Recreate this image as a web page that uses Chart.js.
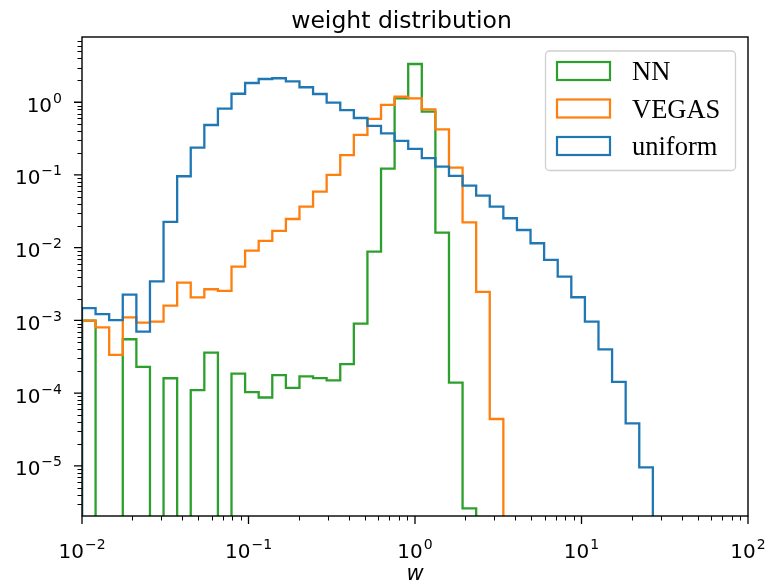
<!DOCTYPE html>
<html>
<head>
<meta charset="utf-8">
<title>weight distribution</title>
<script src="https://cdn.jsdelivr.net/npm/chart.js@4.4.0/dist/chart.umd.min.js"></script>
<style>
    html, body { margin: 0; padding: 0; background: #fff; }
    #contenedor { width: 768px; height: 582px; position: relative; }
</style>
</head>
<body>
<div id="contenedor"><canvas id="grafico"></canvas></div>
<script>
// bordes de los bins: 50 bordes logaritmicos entre 1e-2 y 1e2 (igual que np.logspace(-2, 2, 50))
const bordes = Array.from({ length: 50 }, (_, k) => Math.pow(10, -2 + 4 * k / 49));

// densidad por bin (49 bins); 0 = bin vacio
const pesosNN = [
    9.9e-4, 0, 0, 5.5e-4, 2.3e-4, 0, 1.6e-4, 0, 1.1e-4, 3.6e-4,
    0, 1.85e-4, 1.03e-4, 8.7e-5, 1.77e-4, 1.18e-4, 1.7e-4, 1.61e-4, 1.5e-4, 2.5e-4,
    9.0e-4, 8.8e-3, 0.122, 1.13, 3.36, 0.743, 0.0161, 1.39e-4, 2.6e-6, 0,
    0, 0, 0, 0, 0, 0, 0, 0, 0, 0,
    0, 0, 0, 0, 0, 0, 0, 0, 0
];
const pesosVegas = [
    9.9e-4, 8.0e-4, 3.35e-4, 1.1e-3, 9.3e-4, 9.6e-4, 1.6e-3, 3.3e-3, 2.07e-3, 2.68e-3,
    2.54e-3, 5.5e-3, 9.1e-3, 0.0124, 0.017, 0.0248, 0.0367, 0.059, 0.1, 0.188,
    0.355, 0.59, 0.92, 1.19, 1.13, 0.8, 0.425, 0.126, 0.0223, 2.46e-3,
    4.4e-5, 0, 0, 0, 0, 0, 0, 0, 0, 0,
    0, 0, 0, 0, 0, 0, 0, 0, 0
];
const pesosUniforme = [
    1.47e-3, 1.22e-3, 1.01e-3, 2.26e-3, 7.0e-4, 3.45e-3, 0.0226, 0.096, 0.238, 0.487,
    0.817, 1.31, 1.84, 2.09, 2.14, 1.94, 1.61, 1.3, 0.99, 0.78,
    0.608, 0.472, 0.374, 0.294, 0.228, 0.171, 0.13, 0.097, 0.0713, 0.0519,
    0.0367, 0.0254, 0.0175, 0.0115, 0.0068, 0.004, 2.08e-3, 9.6e-4, 4.0e-4, 1.43e-4,
    3.84e-5, 9.5e-6, 0, 0, 0, 0, 0, 0, 0
];

const nombres = ['NN', 'VEGAS', 'uniform'];
const colores = ['#2ca02c', '#ff7f0e', '#1f77b4'];

const exponentesX = [-2, -1, 0, 1, 2];
const exponentesY = [-5, -4, -3, -2, -1, 0];
const limitesX = [1e-2, 1e2];
const limitesY = [2.04e-6, 7.9];

// contorno tipo histtype='step'; los bins vacios caen por debajo del eje
function contorno(valores) {
    const piso = limitesY[0] / 100;
    const puntos = [{ x: bordes[0], y: piso }];
    valores.forEach((v, k) => puntos.push({ x: bordes[k], y: v > 0 ? v : piso }));
    puntos.push({ x: bordes[bordes.length - 1], y: piso });
    return puntos;
}

// "10" con exponente como superindice
function potencia(ctx, exp, x, y, alinear) {
    const base = '10';
    const sup = exp < 0 ? '\u2212' + Math.abs(exp) : String(exp);
    ctx.font = '20px "DejaVu Sans"';
    const wBase = ctx.measureText(base).width;
    ctx.font = '14px "DejaVu Sans"';
    const wSup = ctx.measureText(sup).width;
    const total = wBase + 1 + wSup;
    let x0 = x;
    if (alinear === 'right') x0 = x - total;
    if (alinear === 'center') x0 = x - total / 2;
    ctx.textAlign = 'left';
    ctx.textBaseline = 'alphabetic';
    ctx.font = '20px "DejaVu Sans"';
    ctx.fillText(base, x0, y);
    ctx.font = '14px "DejaVu Sans"';
    ctx.fillText(sup, x0 + wBase + 1, y - 9);
}

const ejes = {
    id: 'ejes',
    afterDatasetsDraw(chart) {
        const { ctx, chartArea: a, scales } = chart;
        const ex = scales.x, ey = scales.y;
        ctx.save();
        ctx.strokeStyle = '#000';
        ctx.fillStyle = '#000';

        // ticks menores
        ctx.lineWidth = 1;
        ctx.beginPath();
        for (let e = -3; e <= 2; e++) {
            for (let m = 2; m <= 9; m++) {
                const v = m * Math.pow(10, e);
                if (v > limitesX[0] && v < limitesX[1]) {
                    const px = Math.round(ex.getPixelForValue(v)) + 0.5;
                    ctx.moveTo(px, a.bottom);
                    ctx.lineTo(px, a.bottom + 4.5);
                }
            }
        }
        for (let e = -7; e <= 1; e++) {
            for (let m = 2; m <= 9; m++) {
                const v = m * Math.pow(10, e);
                if (v > limitesY[0] && v < limitesY[1]) {
                    const py = Math.round(ey.getPixelForValue(v)) + 0.5;
                    ctx.moveTo(a.left, py);
                    ctx.lineTo(a.left - 4.5, py);
                }
            }
        }
        ctx.stroke();

        // ticks mayores y etiquetas
        ctx.lineWidth = 1.3;
        ctx.beginPath();
        exponentesX.forEach(e => {
            const px = ex.getPixelForValue(Math.pow(10, e));
            ctx.moveTo(px, a.bottom);
            ctx.lineTo(px, a.bottom + 8);
        });
        exponentesY.forEach(e => {
            const py = ey.getPixelForValue(Math.pow(10, e));
            ctx.moveTo(a.left, py);
            ctx.lineTo(a.left - 8, py);
        });
        ctx.stroke();
        exponentesX.forEach(e => potencia(ctx, e, ex.getPixelForValue(Math.pow(10, e)), 558, 'center'));
        exponentesY.forEach(e => potencia(ctx, e, 62, ey.getPixelForValue(Math.pow(10, e)) + 9.5, 'right'));

        // marco
        ctx.lineWidth = 1.4;
        ctx.strokeRect(a.left, a.top, a.right - a.left, a.bottom - a.top);

        // titulo y etiqueta del eje x
        ctx.textAlign = 'center';
        ctx.textBaseline = 'alphabetic';
        ctx.font = '23.5px "DejaVu Sans"';
        ctx.fillText('weight distribution', 401.5, 28);
        ctx.font = 'italic 21px "DejaVu Sans"';
        ctx.fillText('w', 415, 580);

        // leyenda
        const caja = { x: 545.5, y: 51, w: 190, h: 119.5 };
        ctx.beginPath();
        ctx.roundRect(caja.x, caja.y, caja.w, caja.h, 4);
        ctx.fillStyle = 'rgba(255,255,255,0.8)';
        ctx.fill();
        ctx.strokeStyle = '#d0d0d0';
        ctx.lineWidth = 1.3;
        ctx.stroke();
        ctx.font = '26.5px "Liberation Serif"';
        ctx.textAlign = 'left';
        chart.data.datasets.forEach((ds, i) => {
            const cy = 71 + i * 37.5;
            ctx.strokeStyle = ds.borderColor;
            ctx.lineWidth = 2.2;
            ctx.strokeRect(557, cy - 9, 53, 18);
            ctx.fillStyle = '#000';
            ctx.fillText(ds.label, 632, cy + 9);
        });
        ctx.restore();
    }
};

const series = [pesosNN, pesosVegas, pesosUniforme];

new Chart(document.getElementById('grafico'), {
    type: 'line',
    data: {
        datasets: series.map((valores, i) => ({
            label: nombres[i],
            data: contorno(valores),
            borderColor: colores[i],
            borderWidth: 2.3,
            pointRadius: 0,
            stepped: true,
            fill: false,
            order: series.length - 1 - i
        }))
    },
    options: {
        responsive: true,
        maintainAspectRatio: false,
        animation: false,
        layout: { padding: { left: 82, right: 20, top: 37, bottom: 66 } },
        plugins: {
            legend: { display: false },
            title: { display: false },
            tooltip: { enabled: false }
        },
        scales: {
            x: { type: 'logarithmic', min: limitesX[0], max: limitesX[1], display: false },
            y: { type: 'logarithmic', min: limitesY[0], max: limitesY[1], display: false }
        }
    },
    plugins: [ejes]
});
</script>
</body>
</html>
